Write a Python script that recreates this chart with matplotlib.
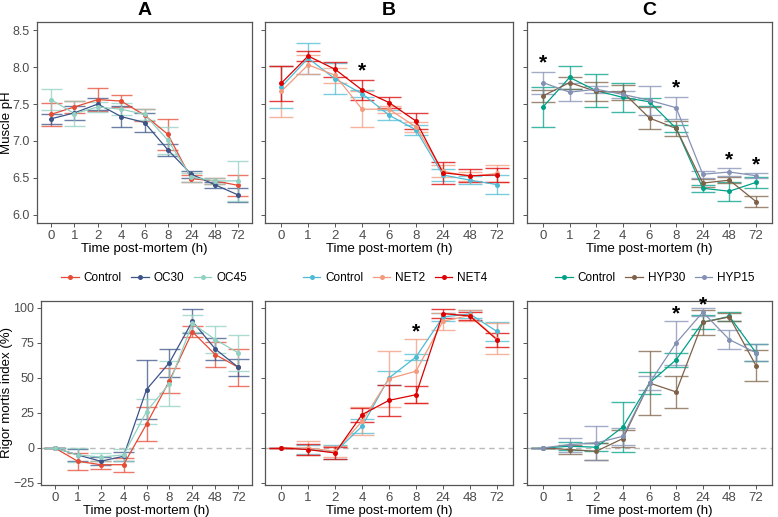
import matplotlib
matplotlib.use("Agg")
import matplotlib.pyplot as plt
from matplotlib.lines import Line2D
import numpy as np

plt.rcParams['font.family'] = ['Liberation Sans', 'DejaVu Sans']

hours = ["0", "1", "2", "4", "6", "8", "24", "48", "72"]

# ---- Muscle pH ----
ph_ctrlA = [7.36, 7.46, 7.56, 7.54, 7.35, 7.09, 6.49, 6.46, 6.40]
ph_ctrlA_sd = [0.155, 0.08, 0.16, 0.08, 0.08, 0.21, 0.05, 0.04, 0.14]
ph_oc30 = [7.30, 7.38, 7.50, 7.33, 7.25, 6.88, 6.55, 6.41, 6.27]
ph_oc30_sd = [0.07, 0.09, 0.08, 0.14, 0.13, 0.08, 0.05, 0.04, 0.09]
ph_oc45 = [7.56, 7.37, 7.46, 7.43, 7.36, 7.01, 6.51, 6.46, 6.46]
ph_oc45_sd = [0.14, 0.17, 0.07, 0.08, 0.07, 0.18, 0.06, 0.04, 0.27]

ph_ctrlB = [7.73, 8.12, 7.84, 7.64, 7.35, 7.15, 6.54, 6.47, 6.41]
ph_ctrlB_sd = [0.28, 0.21, 0.21, 0.05, 0.07, 0.07, 0.08, 0.05, 0.13]
ph_net2 = [7.67, 8.03, 7.89, 7.43, 7.43, 7.19, 6.59, 6.52, 6.56]
ph_net2_sd = [0.34, 0.13, 0.10, 0.24, 0.05, 0.07, 0.08, 0.06, 0.12]
ph_net4 = [7.78, 8.15, 7.97, 7.69, 7.52, 7.27, 6.57, 6.53, 6.54]
ph_net4_sd = [0.24, 0.07, 0.10, 0.13, 0.08, 0.11, 0.15, 0.09, 0.10]

ph_ctrlC = [7.46, 7.86, 7.68, 7.59, 7.53, 7.17, 6.36, 6.32, 6.44]
ph_ctrlC_sd = [0.27, 0.15, 0.22, 0.20, 0.05, 0.05, 0.05, 0.13, 0.07]
ph_hyp30 = [7.61, 7.79, 7.67, 7.66, 7.31, 7.17, 6.43, 6.47, 6.18]
ph_hyp30_sd = [0.08, 0.08, 0.13, 0.10, 0.15, 0.10, 0.05, 0.04, 0.07]
ph_hyp15 = [7.79, 7.66, 7.70, 7.63, 7.55, 7.45, 6.55, 6.58, 6.53]
ph_hyp15_sd = [0.15, 0.12, 0.05, 0.05, 0.20, 0.15, 0.05, 0.05, 0.03]

# ---- Rigor mortis index ----
rm_ctrlA = [0, -9.5, -12, -12, 17, 48, 83, 66.7, 57.6]
rm_ctrlA_sd = [0, 6, 3, 5, 12, 9, 4, 9, 13]
rm_oc30 = [0, -5, -9.5, -6, 41.7, 61, 90.5, 70.7, 57.6]
rm_oc30_sd = [0, 4, 3, 3, 21, 10, 8.5, 8, 6]
rm_oc45 = [0, -5, -6.5, -5, 26, 46, 89, 77.4, 68]
rm_oc45_sd = [0, 5, 3, 4, 9, 16, 6, 9.5, 13]

rm_ctrlB = [0, -1, -3, 15.5, 50, 65, 93.6, 95.7, 83.3]
rm_ctrlB_sd = [0, 3, 5, 5, 5, 2, 3, 3, 7]
rm_net2 = [0, 0, -2.5, 19, 49.5, 54.8, 90.5, 94.8, 78]
rm_net2_sd = [0, 5, 4, 10, 20, 23, 6, 4, 11]
rm_net4 = [0, -1.2, -3.6, 23.8, 34, 38, 96, 94.3, 77.4]
rm_net4_sd = [0, 4, 4, 5, 11, 6, 3, 3, 5]

rm_ctrlC = [0, 1.2, 0.5, 15, 46.4, 63, 89.8, 94, 68]
rm_ctrlC_sd = [0, 3, 3, 18, 8, 5, 5, 3, 6]
rm_hyp30 = [0, -1.2, -2.4, 6.7, 46.4, 40, 89.8, 93.6, 58.8]
rm_hyp30_sd = [0, 3, 6, 6, 23, 11.4, 9, 3, 11]
rm_hyp15 = [0, 2.4, 3.6, 8.3, 46.4, 75, 97, 77.4, 68]
rm_hyp15_sd = [0, 5, 12, 6, 5, 16, 3, 7, 6]

# significance marks (category index, y)
star_ph_B = [(3, 7.95)]
star_ph_C = [(0, 8.05), (5, 7.72), (7, 6.75), (8, 6.68)]
star_rm_B = [(5, 83)]
star_rm_C = [(5, 96), (6, 102)]

groups = {
    "A": (["Control", "OC30", "OC45"], ["#E64B35", "#3C5488", "#91D1C2"],
          [(ph_ctrlA, ph_ctrlA_sd), (ph_oc30, ph_oc30_sd), (ph_oc45, ph_oc45_sd)],
          [(rm_ctrlA, rm_ctrlA_sd), (rm_oc30, rm_oc30_sd), (rm_oc45, rm_oc45_sd)],
          [], []),
    "B": (["Control", "NET2", "NET4"], ["#4DBBD5", "#F39B7F", "#DC0000"],
          [(ph_ctrlB, ph_ctrlB_sd), (ph_net2, ph_net2_sd), (ph_net4, ph_net4_sd)],
          [(rm_ctrlB, rm_ctrlB_sd), (rm_net2, rm_net2_sd), (rm_net4, rm_net4_sd)],
          star_ph_B, star_rm_B),
    "C": (["Control", "HYP30", "HYP15"], ["#00A087", "#7E6148", "#8491B4"],
          [(ph_ctrlC, ph_ctrlC_sd), (ph_hyp30, ph_hyp30_sd), (ph_hyp15, ph_hyp15_sd)],
          [(rm_ctrlC, rm_ctrlC_sd), (rm_hyp30, rm_hyp30_sd), (rm_hyp15, rm_hyp15_sd)],
          star_ph_C, star_rm_C),
}

W, H = 778, 517
fig = plt.figure(figsize=(W / 100, H / 100), dpi=100)

def px_axes(x0, x1, ytop, ybot):
    return fig.add_axes([x0 / W, 1 - ybot / H, (x1 - x0) / W, (ybot - ytop) / H])

cols_top = [(37, 252), (265, 513), (527, 772)]
cols_bot = [(41, 252), (265, 513), (527, 772)]
legend_cx = [154, 395, 655]

x = np.arange(len(hours))

def style(ax, show_ylabels):
    ax.set_xlim(-0.6, len(hours) - 0.4)
    ax.set_xticks(x)
    ax.set_xticklabels(hours)
    for s in ax.spines.values():
        s.set_color("#555555")
        s.set_linewidth(0.9)
    ax.tick_params(axis="both", colors="#555555", length=3, width=0.7,
                   labelsize=9, labelcolor="#4D4D4D", pad=2)
    ax.tick_params(axis="x", labelsize=9.5)
    if not show_ylabels:
        ax.tick_params(axis="y", labelleft=False)
    ax.set_xlabel("Time post-mortem (h)", fontsize=9.5, labelpad=1, color="black")

def draw(ax, series, colors):
    for (vals, sd), c in zip(series, colors):
        v = np.array(vals, float)
        e = np.array(sd, float)
        ax.vlines(x, v - e, v + e, color=c, lw=1.0, alpha=0.75, zorder=2)
        ax.hlines(v - e, x - 0.45, x + 0.45, color=c, lw=1.0, alpha=0.75, zorder=2)
        ax.hlines(v + e, x - 0.45, x + 0.45, color=c, lw=1.0, alpha=0.75, zorder=2)
        ax.plot(x, v, color=c, lw=0.9, zorder=3)
        ax.plot(x, v, "o", color=c, ms=3.6, mec="none", zorder=4)

for i, key in enumerate(["A", "B", "C"]):
    names, colors, ph, rm, sph, srm = groups[key]
    # top
    x0, x1 = cols_top[i]
    ax = px_axes(x0, x1, 22, 223)
    draw(ax, ph, colors)
    ax.set_ylim(5.89, 8.61)
    ax.set_yticks([6.0, 6.5, 7.0, 7.5, 8.0, 8.5])
    ax.set_yticklabels(["6.0", "6.5", "7.0", "7.5", "8.0", "8.5"])
    style(ax, i == 0)
    if i == 0:
        ax.set_ylabel("Muscle pH", fontsize=9.5)
        ax.yaxis.set_label_coords((13 - x0) / (x1 - x0), 0.5)
    for (xi, yv) in sph:
        ax.text(xi, yv, "*", ha="center", va="center", fontsize=15, fontweight="bold")
    ax.set_title(key, fontsize=14, fontweight="bold", pad=5)

    # bottom
    x0, x1 = cols_bot[i]
    ax2 = px_axes(x0, x1, 301, 485)
    ax2.axhline(0, color="#BBBBBB", lw=1.0, ls=(0, (4, 3)), zorder=1)
    draw(ax2, rm, colors)
    ax2.set_ylim(-26.5, 105)
    ax2.set_yticks([-25, 0, 25, 50, 75, 100])
    style(ax2, i == 0)
    if i == 0:
        ax2.set_ylabel("Rigor mortis index (%)", fontsize=9.5)
        ax2.yaxis.set_label_coords((13 - x0) / (x1 - x0), 0.5)
    for (xi, yv) in srm:
        ax2.text(xi, yv, "*", ha="center", va="center", fontsize=15, fontweight="bold")

    handles = [Line2D([0], [0], color=c, lw=0.9, marker="o", ms=3.6, mec="none")
               for c in colors]
    fig.legend(handles, names, loc="center", bbox_to_anchor=(legend_cx[i] / W, 1 - 278 / H),
               ncol=3, frameon=False, fontsize=8.5, handlelength=1.5, handletextpad=0.4,
               columnspacing=0.8)

fig.savefig("out.png", dpi=100)
